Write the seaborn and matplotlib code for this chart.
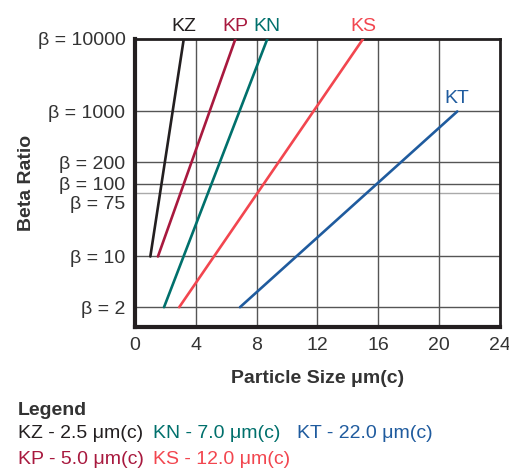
import numpy as np
import pandas as pd
import matplotlib
matplotlib.use("Agg")
import matplotlib.pyplot as plt
import matplotlib.transforms as mtransforms
import seaborn as sns

# filter grades, particle size (um) at the ends of each line and the beta values there
grades = ["KZ", "KP", "KN", "KS", "KT"]
size_lo = [1.0, 1.5, 1.9, 2.9, 6.9]
size_hi = [3.2, 6.6, 8.7, 15.0, 21.2]
beta_lo = [10, 10, 2, 2, 2]
beta_hi = [10000, 10000, 10000, 10000, 1000]
ratings = ["2.5", "5.0", "7.0", "12.0", "22.0"]
colors = ["#231f20", "#a8193e", "#00706c", "#f2464f", "#1f5b9e"]

beta_ticks = [2, 10, 75, 100, 200, 1000, 10000]
x_ticks = [0, 4, 8, 12, 16, 20, 24]

rows = []
for g, x0, x1, b0, b1 in zip(grades, size_lo, size_hi, beta_lo, beta_hi):
    rows.append((g, x0, b0))
    rows.append((g, x1, b1))
df = pd.DataFrame(rows, columns=["grade", "size", "beta"])

sns.set_style("white")
plt.rcParams["font.family"] = ["Liberation Sans", "DejaVu Sans"]

fig = plt.figure(figsize=(5.1, 4.69), dpi=100)
ax = fig.add_axes([0.265, 0.303, 0.715, 0.614])

# grid lines first so the data sits on top
for b in [1000, 200, 100, 10, 2]:
    ax.axhline(b, color="#555555", lw=1.0, zorder=1)
ax.axhline(75, color="#aaaaaa", lw=1.0, zorder=1)
for xv in [4, 8, 12, 16, 20]:
    ax.axvline(xv, color="#555555", lw=1.0, zorder=1)

sns.lineplot(data=df, x="size", y="beta", hue="grade", palette=dict(zip(grades, colors)),
             lw=1.9, legend=False, ax=ax, zorder=3)

ax.set_yscale("log")
ax.set_ylim(1.07, 10000)
ax.set_xlim(0, 23.8)
ax.set_yticks(beta_ticks)
ax.set_yticklabels([f"β = {b}" for b in beta_ticks], fontsize=14)
ax.yaxis.set_minor_locator(matplotlib.ticker.NullLocator())
ax.set_xticks(x_ticks)
ax.set_xticklabels([str(t) for t in x_ticks], fontsize=14, color="#333333")
ax.tick_params(length=0, pad=7)
for lab in ax.get_yticklabels():
    lab.set_color("#333333")
# the 75 label sits a bit below its line
lab75 = ax.get_yticklabels()[2]
lab75.set_transform(lab75.get_transform() + mtransforms.ScaledTranslation(0, -7 / 72, fig.dpi_scale_trans))

for s in ax.spines.values():
    s.set_color("#231f20")
    s.set_linewidth(2)
ax.spines["left"].set_linewidth(3)
ax.spines["bottom"].set_linewidth(3)

ax.set_xlabel("Particle Size μm(c)", fontsize=14, fontweight="bold", color="#333333", labelpad=12)
ax.set_ylabel("Beta Ratio", fontsize=14, fontweight="bold", color="#333333")
ax.yaxis.set_label_coords(-0.275, 0.5)

# line names at the top end of each line
for g, x1, b1, c in zip(grades, size_hi, beta_hi, colors):
    ax.annotate(g, (x1, b1), xytext=(0, 3), textcoords="offset points",
                ha="center", va="bottom", fontsize=14, color=c, annotation_clip=False)

# legend as text below the chart
fig.text(18 / 510, 1 - 410 / 469, "Legend", fontsize=14, fontweight="bold", color="#333333", va="center")
legend_pos = [(18, 433), (18, 459), (153, 433), (153, 459), (297, 433)]
for g, r, c, (px, py) in zip(grades, ratings, colors, legend_pos):
    fig.text(px / 510, 1 - py / 469, f"{g} - {r} μm(c)", fontsize=14, color=c, va="center")

fig.savefig("out.png", dpi=100)
